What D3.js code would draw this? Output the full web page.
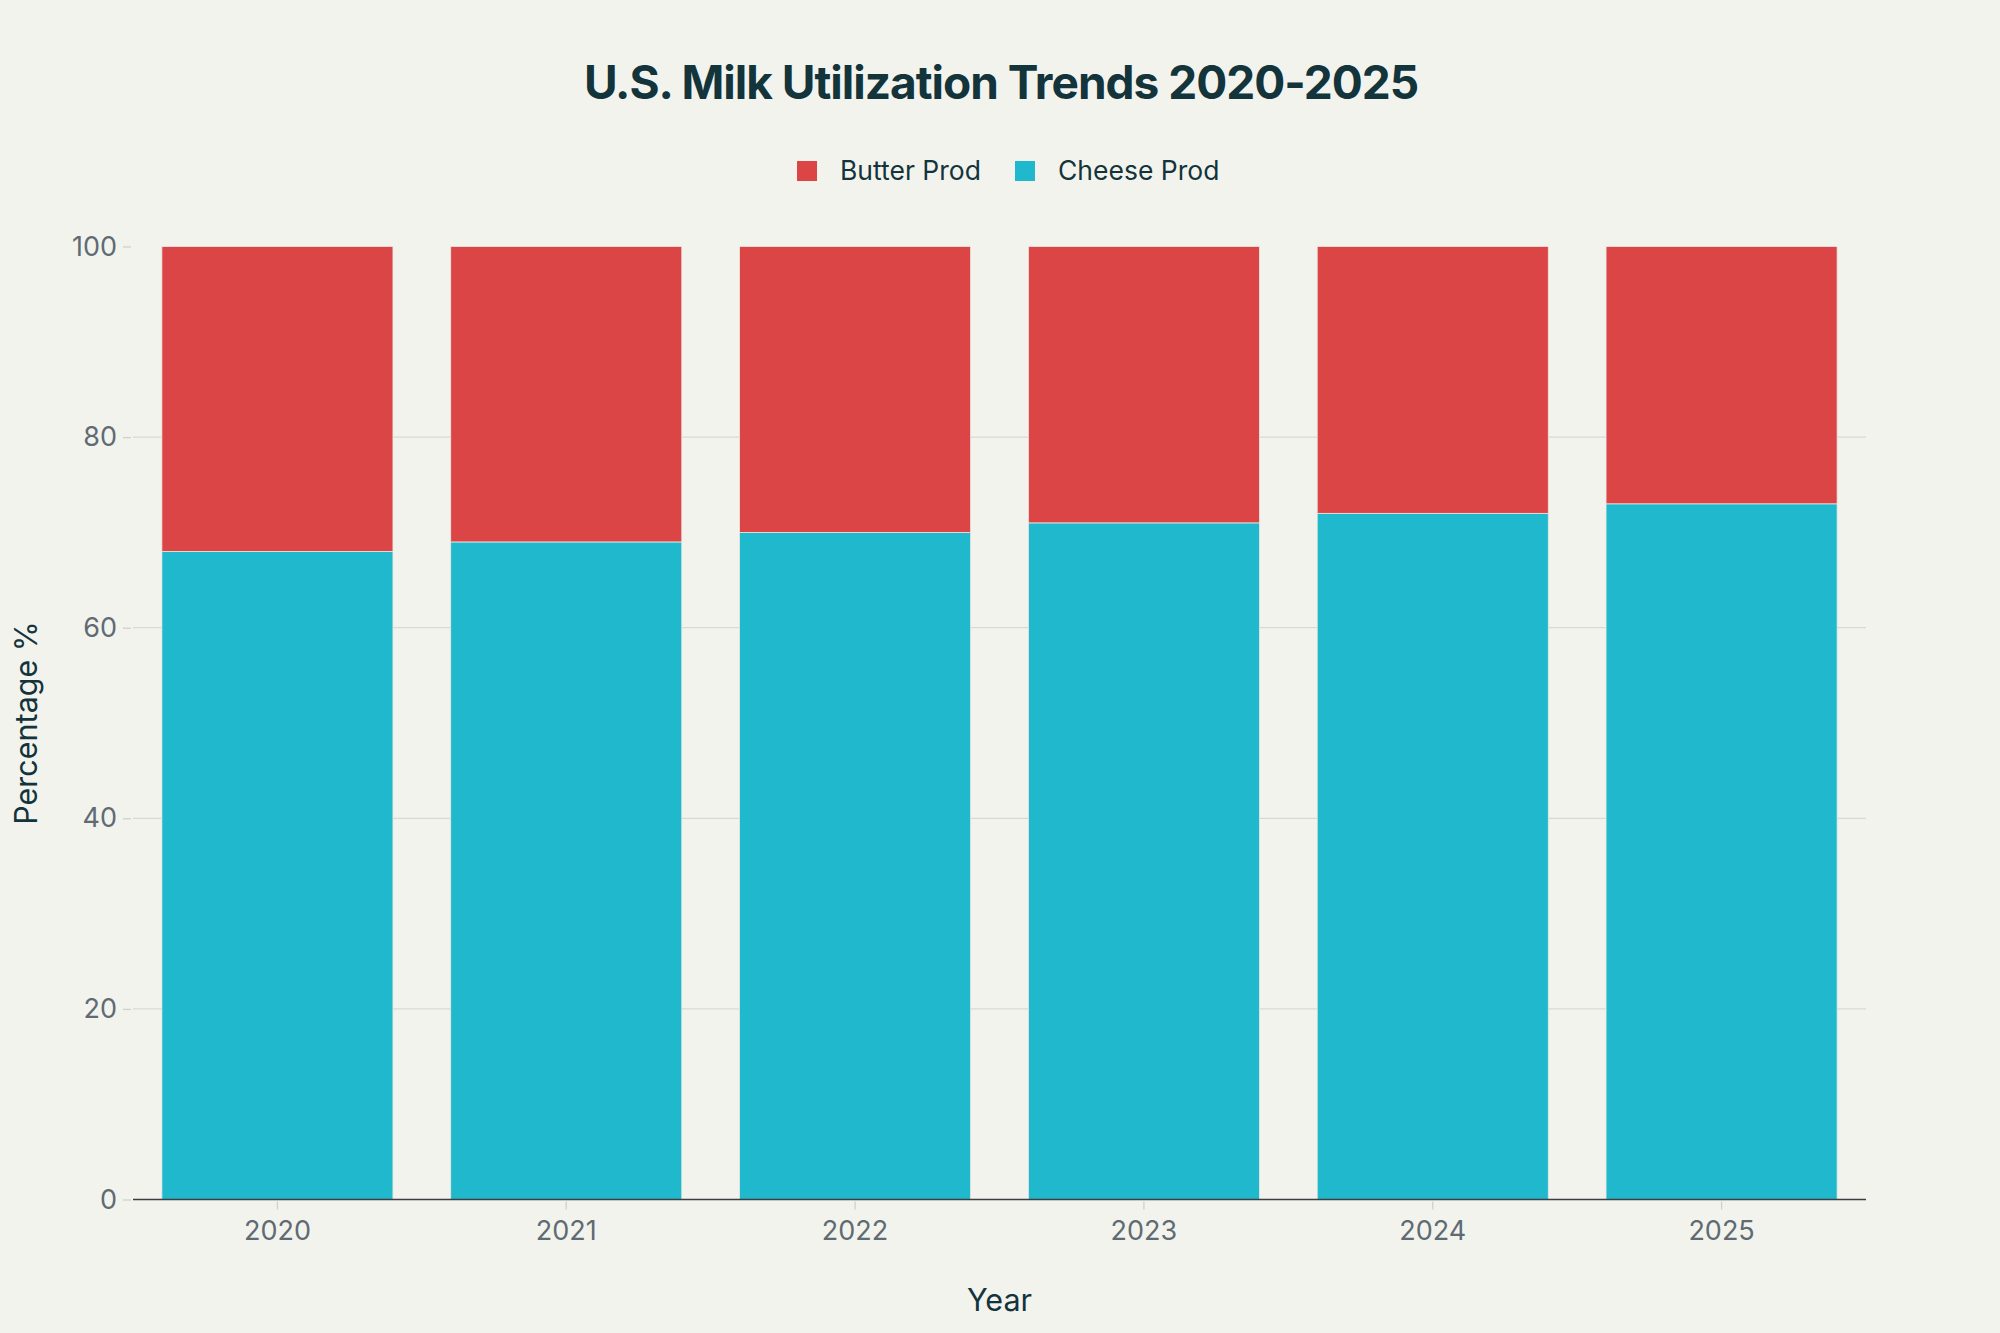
<!DOCTYPE html>
<html><head><meta charset="utf-8">
<script src="https://cdn.jsdelivr.net/npm/d3@7"></script>
<style>html,body{margin:0;padding:0;background:#F3F3EE;}svg{display:block;}</style>
</head><body>
<script>
const years = ["2020","2021","2022","2023","2024","2025"];
const cheeseProd = [68,69,70,71,72,73];
const butterProd = [32,31,30,29,28,27];
const seriesNames = ["Butter Prod","Cheese Prod"];
const yTicks = [0,20,40,60,80,100];

const W=2000,H=1333;
const m={l:133,r:134,t:246.5,b:133.5};
const colors={"Cheese Prod":"#1FB8CD","Butter Prod":"#DB4545"};
const font="Inter, 'Liberation Sans', sans-serif";
const textColor="#13343B";
const tickColor="#5F6B72";

const svg=d3.select("body").append("svg").attr("width",W).attr("height",H);
svg.append("rect").attr("width",W).attr("height",H).attr("fill","#F3F3EE");

const x=d3.scaleBand().domain(years).range([m.l,W-m.r]).paddingInner(0.2).paddingOuter(0.1);
const y=d3.scaleLinear().domain([0,100]).range([H-m.b,m.t]);

// gridlines
svg.append("g").selectAll("line").data(yTicks.filter(d=>d>0 && d<100)).join("line")
  .attr("x1",m.l).attr("x2",W-m.r).attr("y1",d=>y(d)).attr("y2",d=>y(d))
  .attr("stroke","#D9D9D4").attr("stroke-width",1.3);

const data=years.map((yr,i)=>({year:yr,"Cheese Prod":cheeseProd[i],"Butter Prod":butterProd[i]}));
const stack=d3.stack().keys(["Cheese Prod","Butter Prod"])(data);
svg.append("g").selectAll("g").data(stack).join("g").attr("fill",d=>colors[d.key])
  .selectAll("rect").data(d=>d).join("rect")
  .attr("x",d=>x(d.data.year)).attr("width",x.bandwidth())
  .attr("y",d=>y(d[1])).attr("height",d=>y(d[0])-y(d[1]))
  .attr("stroke","#E8E8E2").attr("stroke-width",0.8);

// y axis
const ya=svg.append("g").attr("transform",`translate(${m.l-2},0)`)
  .call(d3.axisLeft(y).tickValues(yTicks).tickSize(8).tickPadding(6));
ya.select(".domain").remove();
ya.selectAll(".tick line").attr("stroke","#D0D0CC").attr("stroke-width",1.3);
ya.selectAll(".tick text").attr("font-family",font).attr("font-size",27).attr("fill",tickColor);

// x axis
const xa=svg.append("g").attr("transform",`translate(0,${H-m.b})`)
  .call(d3.axisBottom(x).tickSize(10).tickPadding(11).tickSizeOuter(0));
xa.select(".domain").attr("stroke","#3A3F42").attr("stroke-width",1.6).attr("d",`M${m.l},0H${W-m.r}`);
xa.selectAll(".tick line").attr("stroke","#D0D0CC").attr("stroke-width",1.3).attr("y1",2);
xa.selectAll(".tick text").attr("font-family",font).attr("font-size",27).attr("fill",tickColor);

// title
svg.append("text").attr("x",1001).attr("y",99).attr("text-anchor","middle")
  .attr("font-family",font).attr("font-weight",700).attr("font-size",46)
  .attr("letter-spacing",-1).attr("fill",textColor).text("U.S. Milk Utilization Trends 2020-2025");

// legend
const legX=[797,1015];
const lg=svg.append("g").selectAll("g").data(seriesNames).join("g")
  .attr("transform",(d,i)=>`translate(${legX[i]},161)`);
lg.append("rect").attr("width",20).attr("height",20).attr("fill",d=>colors[d]);
lg.append("text").attr("x",43).attr("y",19).attr("font-family",font).attr("font-size",26.5)
  .attr("fill",textColor).text(d=>d);

// axis titles
svg.append("text").attr("x",(m.l+W-m.r)/2).attr("y",1311).attr("text-anchor","middle")
  .attr("font-family",font).attr("font-size",30.5).attr("fill",textColor).text("Year");
svg.append("text").attr("transform",`translate(37,${(m.t+H-m.b)/2}) rotate(-90)`).attr("text-anchor","middle")
  .attr("font-family",font).attr("font-size",30.5).attr("fill",textColor).text("Percentage %");
</script>
</body></html>
